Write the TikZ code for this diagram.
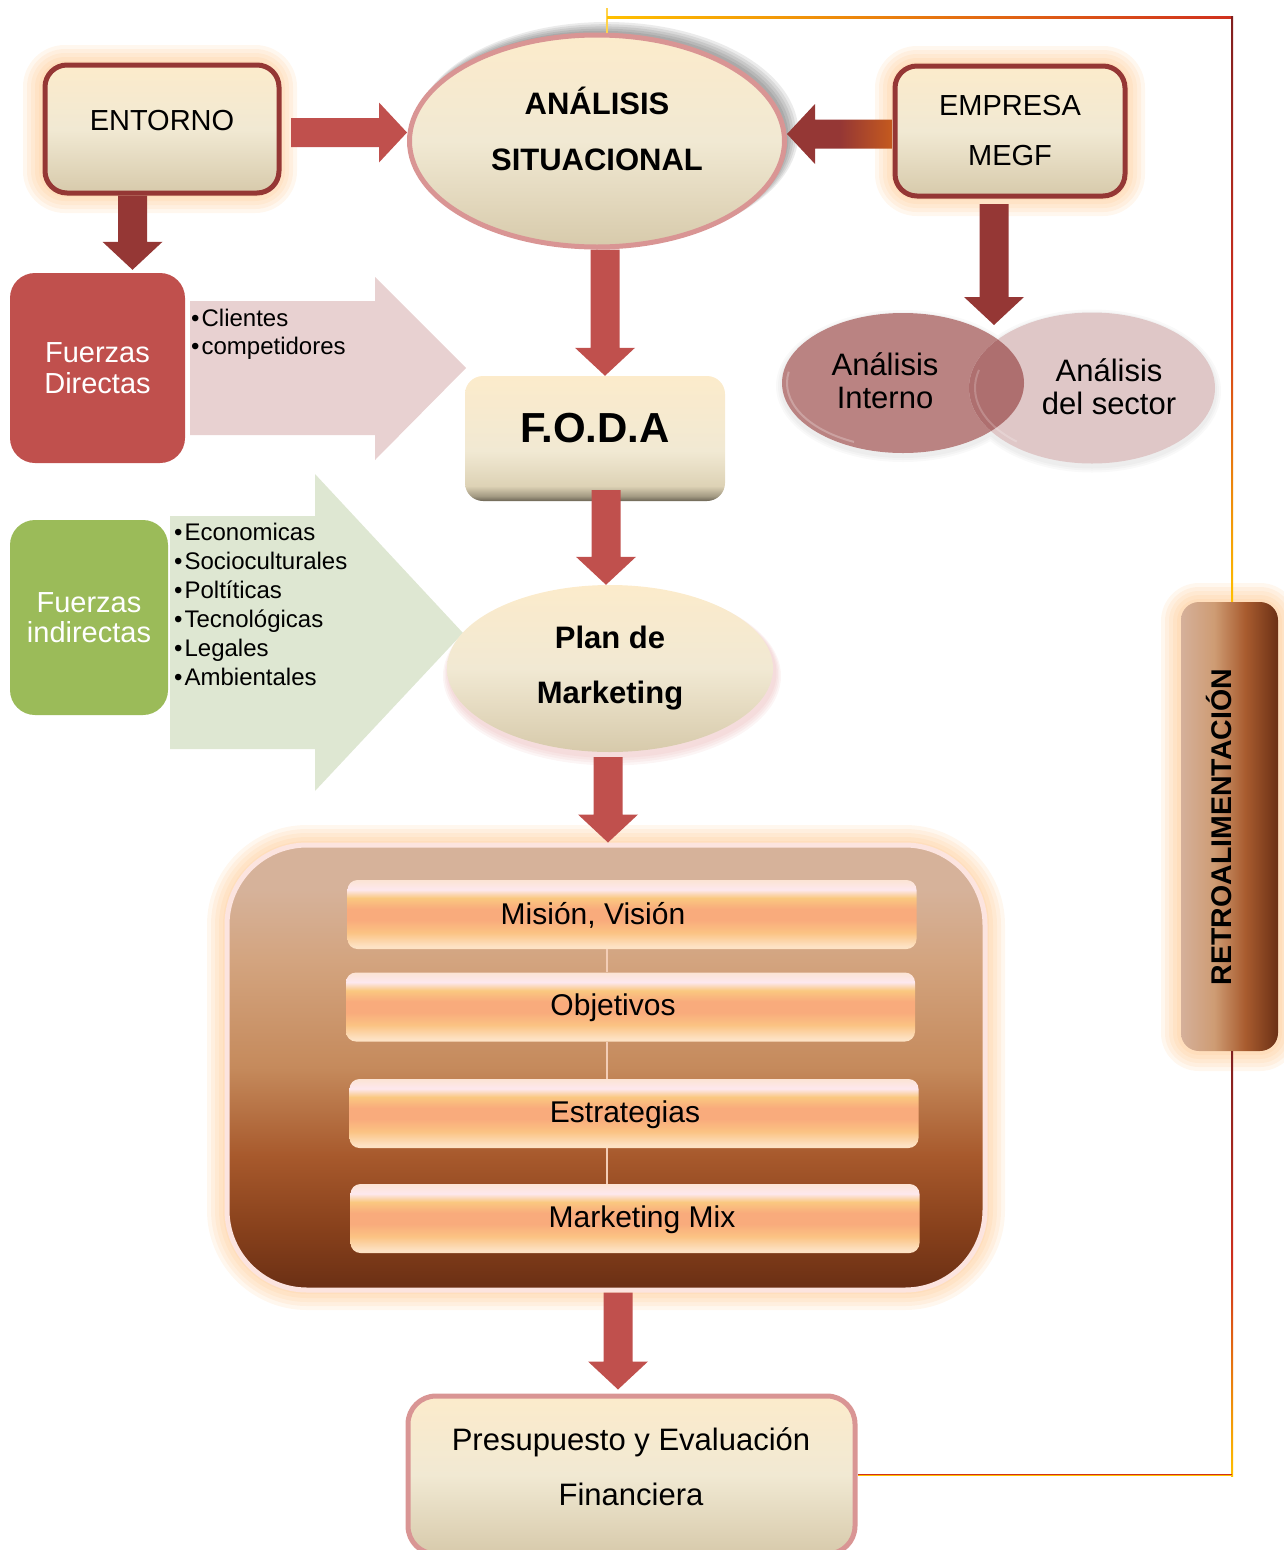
\documentclass[tikz,border=0pt]{standalone}
\usepackage{fontspec}
\setmainfont{Liberation Sans}
\usetikzlibrary{calc,shapes.geometric}

% colours
\definecolor{brick}{HTML}{C0504D}
\definecolor{maroon}{HTML}{953735}
\definecolor{ember}{HTML}{C55A1E}
\definecolor{creamtop}{HTML}{FCEBCB}
\definecolor{creammid}{HTML}{F1E9D3}
\definecolor{creambot}{HTML}{D7CAAB}
\definecolor{blush}{HTML}{D99594}
\definecolor{blushglow}{HTML}{E29C9C}
\definecolor{rosearrow}{HTML}{E8D1D1}
\definecolor{sagearrow}{HTML}{DEE7D2}
\definecolor{leaf}{HTML}{9BBB59}
\definecolor{glowc}{HTML}{FFBE7A}
\definecolor{venna}{HTML}{BA8382}
\definecolor{vennb}{HTML}{DFC7C7}
\definecolor{vennab}{HTML}{AE6F6F}
\definecolor{fbgold}{HTML}{FFC000}
\definecolor{fbred}{HTML}{D0301E}
\definecolor{fbdark}{HTML}{7F1F1F}
\definecolor{rimc}{HTML}{FCE4DF}
\definecolor{spinec}{HTML}{F3CDB6}
% bands
\definecolor{barA}{HTML}{FDE2C4}
\definecolor{barC}{HTML}{FBC383}
\definecolor{barD}{HTML}{F9AB7C}
\definecolor{barE}{HTML}{FAC880}
\definecolor{barF}{HTML}{FDE8EE}
\definecolor{barG}{HTML}{FCE4D4}
% brown frame
\definecolor{brA}{HTML}{6A2F14}
\definecolor{brB}{HTML}{88411C}
\definecolor{brC}{HTML}{A7592C}
\definecolor{brD}{HTML}{C58A5C}
\definecolor{brE}{HTML}{D3A47F}
\definecolor{brF}{HTML}{D6B29A}
% foda bevel
\definecolor{fdA}{HTML}{6C6555}
\definecolor{fdB}{HTML}{A39A83}
\definecolor{fdC}{HTML}{DDD2B5}
% side bar
\definecolor{rtA}{HTML}{D5B09A}
\definecolor{rtB}{HTML}{CE9C74}
\definecolor{rtC}{HTML}{A95C2F}
\definecolor{rtD}{HTML}{6B3015}

\pgfdeclareverticalshading{barshade}{100bp}{color(0bp)=(barA); color(27bp)=(barA); color(37bp)=(barC); color(46bp)=(barD); color(54bp)=(barD); color(62bp)=(barE); color(68bp)=(barF); color(75bp)=(barG); color(100bp)=(barG)}
\pgfdeclareverticalshading{brownshade}{100bp}{color(0bp)=(brA); color(25bp)=(brA); color(32bp)=(brB); color(40bp)=(brC); color(50bp)=(brD); color(62bp)=(brE); color(70bp)=(brF); color(100bp)=(brF)}
\pgfdeclareverticalshading{fodashade}{100bp}{color(0bp)=(fdA); color(25bp)=(fdA); color(27bp)=(fdB); color(31bp)=(fdC); color(45bp)=(creammid); color(75bp)=(creamtop); color(100bp)=(creamtop)}
\pgfdeclarehorizontalshading{retroshade}{100bp}{color(0bp)=(rtA); color(25bp)=(rtA); color(42bp)=(rtB); color(58bp)=(rtC); color(75bp)=(rtD); color(100bp)=(rtD)}

\def\glowbox[#1](#2,#3)(#4,#5)#6{%
	\foreach \g in {20,16,...,4}
		\fill[#1, opacity=0.13, rounded corners=#6+\g] (#2-\g,#3-\g) rectangle (#4+\g,#5+\g);}
\def\blockarrow[#1](#2)(#3){%
	\path (#2) coordinate (ba) ($(#3)!28pt!(#2)$) coordinate (bh);
	\path[#1] ($(ba)!14.5pt!90:(bh)$) -- ($(bh)!14.5pt!-90:(ba)$) -- ($(bh)!30pt!-90:(ba)$) -- (#3) -- ($(bh)!30pt!90:(ba)$) -- ($(bh)!14.5pt!90:(ba)$) -- ($(ba)!14.5pt!-90:(bh)$) -- cycle;}

\tikzset{
	cream/.style={top color=creamtop, bottom color=creambot, middle color=creammid},
	panel/.style={cream, draw=maroon, line width=5pt, rounded corners=22pt},
	heading/.style={align=center, font=\bfseries\fontsize{31}{56}\selectfont},
	force/.style={rounded corners=25pt, text=white, align=center, font=\fontsize{29}{30.5}\selectfont},
	listitem/.style={anchor=base west, inner sep=0pt, font=\fontsize{24}{24}\selectfont},
	venntext/.style={align=center, font=\fontsize{31}{33}\selectfont},
	band/.style={shade, shading=barshade, rounded corners=10pt, minimum width=569pt, minimum height=69pt, inner sep=0pt},
	bandtext/.style={font=\fontsize{30}{32}\selectfont},
	bandlink/.style={draw=spinec, line width=1.5pt}
}

\begin{document}
\begin{tikzpicture}[x=1pt,y=-1pt]
	%%%%% START %%%%%
	\useasboundingbox (0,0) rectangle (1284,1550);

	% soft glow behind the boxes
	\glowbox[glowc](43,65)(277,193){22}
	\glowbox[glowc](895,66)(1125,196){22}
	\glowbox[glowc](227,845)(985,1290){80}
	\glowbox[glowc](1181,603)(1278,1051){18}

	% grey shadow of the big ellipse
	\foreach \s in {3,6,9,12,15}
		\fill[black, opacity=0.08] (599+\s/2,139-\s/2.5) ellipse [x radius={(187+\s/3)*1pt}, y radius={(106+\s/3)*1pt}];

	% broad arrows behind the lists
	\fill[rosearrow] (190,301) -- (375,301) -- (375,277) -- (466,368) -- (375,460) -- (375,435) -- (190,435) -- cycle;
	\fill[sagearrow] (170,516) -- (315,516) -- (315,474) -- (463,633) -- (315,791) -- (315,749) -- (170,749) -- cycle;

	% top row
	\node[panel, minimum width=234pt, minimum height=128pt, font=\fontsize{29}{31}\selectfont, text height=21pt, text depth=18pt] (entorno) at (162,129) {ENTORNO};
	\node[ellipse, cream, draw=blush, line width=5pt, minimum width=375pt, minimum height=212pt] (analisis) at (597,141) {};
	\node[heading] (analisistxt) at (597,128.5) {ANÁLISIS\\SITUACIONAL};
	\node[panel, minimum width=230pt, minimum height=130pt, align=center, font=\fontsize{29}{50}\selectfont] (empresa) at (1010,131) {EMPRESA\\MEGF};

	% forces
	\node[force, fill=brick, minimum width=175pt, minimum height=190pt] (directas) at (97.5,368) {Fuerzas\\Directas};
	\node[force, fill=leaf, minimum width=158pt, minimum height=195pt] (indirectas) at (89,617.5) {Fuerzas\\indirectas};
	\foreach \t [count=\i] in {Clientes,competidores}
		\node[listitem] (dir\i) at (191,298+28*\i) {•\kern2pt\t};
	\foreach \t [count=\i] in {Economicas,Socioculturales,Poltíticas,Tecnológicas,Legales,Ambientales}
		\node[listitem] (ind\i) at (174,511+29*\i) {•\kern2pt\t};

	% foda
	\node[shade, shading=fodashade, rounded corners=18pt, minimum width=260pt, minimum height=125pt, font=\bfseries\fontsize{42}{44}\selectfont, text height=30pt, text depth=23pt] (foda) at (595,438.5) {F.O.D.A};

	% internal analysis and sector
	\foreach \s in {4,8,12}
		\fill[black, opacity=0.025] (903,386) ellipse [x radius={(121+\s/2)*1pt}, y radius={(70+\s/2)*1pt}] (1092,391) ellipse [x radius={(123+\s/2)*1pt}, y radius={(75.5+\s/2)*1pt}];
	\node[ellipse, fill=venna, minimum width=242pt, minimum height=140pt, inner sep=0pt] (interno) at (903,383) {};
	\node[ellipse, fill=vennb, minimum width=246pt, minimum height=151pt, inner sep=0pt] (sector) at (1092,388) {};
	\begin{scope}
		\clip (interno.center) ellipse [x radius=121pt, y radius=70pt];
		\fill[vennab] (sector.center) ellipse [x radius=123pt, y radius=75.5pt];
	\end{scope}
	\draw[white, opacity=0.25, line width=2pt] ([shift={(170:116pt and 65pt)}]interno.center) arc [start angle=170, end angle=245, x radius=116pt, y radius=65pt];
	\draw[white, opacity=0.2, line width=2pt] ([shift={(165:117pt and 70pt)}]sector.center) arc [start angle=165, end angle=230, x radius=117pt, y radius=70pt];
	\node[venntext] (internotxt) at (885,381) {Análisis\\Interno};
	\node[venntext] (sectortxt) at (1109,387) {Análisis\\del sector};
	\coordinate (vennjoin) at (994,325);

	% plan
	\foreach \s in {3,6,9,12}
		\fill[blushglow, opacity=0.1] (612,672+\s/3) ellipse [x radius={(163+\s/2)*1pt}, y radius={(83.5+\s/2)*1pt}];
	\node[ellipse, cream, minimum width=326pt, minimum height=167pt, align=center, font=\bfseries\fontsize{31}{55}\selectfont] (plan) at (610,668.5) {Plan de\\Marketing};

	% strategy frame with its four bands
	\node[shade, shading=brownshade, rounded corners=80pt, draw=rimc, line width=5pt, minimum width=758pt, minimum height=445pt] (bloque) at (606,1067.5) {};
	\node[band] (mision) at (632,914.5) {};
	\node[band] (objetivos) at (630.5,1007) {};
	\node[band] (estrategias) at (634,1113.5) {};
	\node[band] (mix) at (635,1218.5) {};
	\coordinate (spine) at (607,0);
	\draw[bandlink] (spine |- mision.south) -- (spine |- objetivos.north);
	\draw[bandlink] (spine |- objetivos.south) -- (spine |- estrategias.north);
	\draw[bandlink] (spine |- estrategias.south) -- (spine |- mix.north);
	\node[bandtext] (misiontxt) at (593,915) {Misión, Visión};
	\node[bandtext] (objetivostxt) at (613,1008) {Objetivos};
	\node[bandtext] (estrategiastxt) at (625,1115) {Estrategias};
	\node[bandtext] (mixtxt) at (642,1220) {Marketing Mix};

	% budget
	\node[cream, draw=blush, line width=5pt, rounded corners=28pt, minimum width=447pt, minimum height=158pt] (presup) at (631.5,1475) {};
	\node[align=center, font=\fontsize{31}{55}\selectfont] (presuptxt) at (631,1467) {Presupuesto y Evaluación\\Financiera};

	% feedback
	\node[shade, shading=retroshade, rounded corners=18pt, minimum width=97pt, minimum height=449pt] (retro) at (1229.5,826.5) {};
	\node[rotate=90, font=\bfseries\fontsize{28.5}{30}\selectfont] (retrotxt) at (1219,827) {RETROALIMENTACIÓN};
	\coordinate (fbtop) at (607,8);
	\coordinate (fbcorner) at (1232,17);
	\draw[fbgold!70!white, line width=2pt] (fbtop) -- (fbtop |- analisis.north);
	\shade[left color=fbgold, right color=fbred] ($(fbtop |- fbcorner)+(0,-1)$) rectangle ($(fbcorner)+(0,1)$);
	\shade[top color=fbdark, bottom color=fbgold, middle color=fbred] ($(fbcorner)+(-1,-1)$) rectangle ($(fbcorner |- retro.north)+(1,0)$);
	\shade[top color=fbdark, bottom color=fbgold, middle color=fbred] ($(fbcorner |- retro.south)+(-1,0)$) rectangle ($(fbcorner |- presup.east)+(1,1)$);
	\fill[fbred] ($(presup.east)+(0,-1)$) rectangle (fbcorner |- presup.east);
	\fill[fbgold] (presup.east) rectangle ($(fbcorner |- presup.east)+(0,1)$);

	% block arrows
	\path ([xshift=9.5pt,yshift=-3.5pt]entorno.east) coordinate (a1) ([yshift=-3pt]empresa.west) coordinate (a2)
		([xshift=-29.5pt]entorno.south) coordinate (a3) ([xshift=8pt]analisis.south) coordinate (a4)
		([xshift=-16pt,yshift=-5.5pt]empresa.south) coordinate (a5) ([xshift=11pt,yshift=11pt]foda.south) coordinate (a6)
		([xshift=-2pt,yshift=-5pt]plan.south) coordinate (a7) ([xshift=12pt]bloque.south) coordinate (a8);
	\path (a1 -| analisis.west) coordinate (b1) (a2 -| analisis.east) coordinate (b2)
		($(a3 |- directas.north)+(0,-3)$) coordinate (b3) (a4 |- foda.north) coordinate (b4)
		(a6 |- plan.north) coordinate (b6) (a7 |- bloque.north) coordinate (b7)
		($(a8 |- presup.north)+(0,-4)$) coordinate (b8);
	\blockarrow[fill=brick](a1)(b1)
	\blockarrow[left color=maroon, right color=ember, middle color=maroon](a2)(b2)
	\blockarrow[fill=maroon](a3)(b3)
	\blockarrow[fill=brick](a4)(b4)
	\blockarrow[fill=maroon](a5)(vennjoin)
	\blockarrow[fill=brick](a6)(b6)
	\blockarrow[fill=brick](a7)(b7)
	\blockarrow[fill=brick](a8)(b8)
	%%%%% END %%%%%
\end{tikzpicture}
\end{document}
